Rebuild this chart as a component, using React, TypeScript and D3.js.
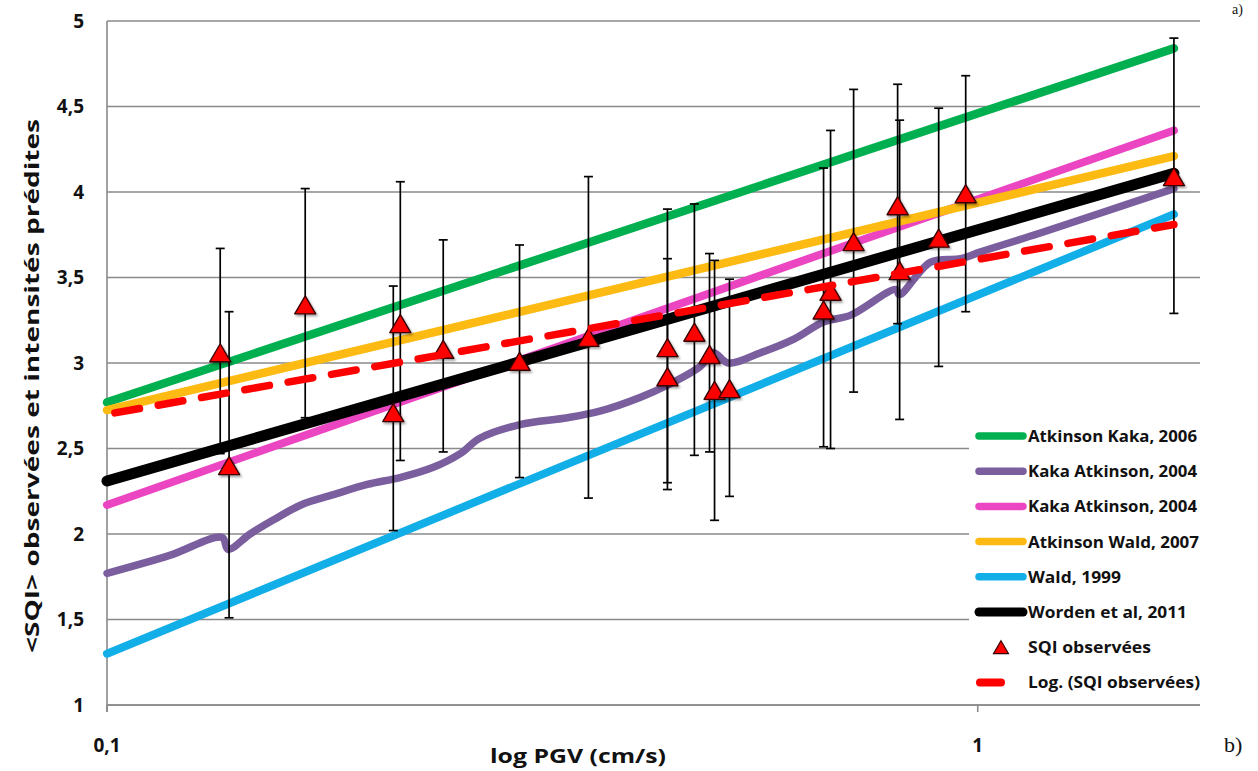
import React from "react";
import * as d3 from "d3";

// ---------- DATA ----------
const yTicks = [1, 1.5, 2, 2.5, 3, 3.5, 4, 4.5, 5];
const yTickLabels = ["1", "1,5", "2", "2,5", "3", "3,5", "4", "4,5", "5"];
const xTicks = [0.1, 1];
const xTickLabels = ["0,1", "1"];

// straight predicted lines (in log x) : value at first and last PGV
const lineX = [0.1, 1.68];
const atkinsonKaka2006 = [2.77, 4.84];
const kakaAtkinson2004b = [2.17, 4.36];
const atkinsonWald2007 = [2.725, 4.21];
const wald1999 = [1.3, 3.87];
const worden2011 = [2.31, 4.11];
const logTrend = [2.7, 3.81];

// Kaka Atkinson 2004 (bilinear / wavy relation)
const kakaX = [0.1, 0.118, 0.1356, 0.1377, 0.146, 0.155, 0.167, 0.182, 0.199, 0.217, 0.237, 0.2545, 0.268, 0.298, 0.338, 0.369, 0.41, 0.44, 0.48, 0.497, 0.517, 0.563, 0.615, 0.665, 0.715, 0.805, 0.813, 0.883, 0.956, 1.008, 1.18, 1.68];
const kakaY = [1.77, 1.875, 1.98, 1.91, 2.0, 2.08, 2.17, 2.23, 2.29, 2.33, 2.39, 2.47, 2.56, 2.64, 2.68, 2.72, 2.8, 2.87, 2.98, 3.06, 3.0, 3.06, 3.14, 3.24, 3.28, 3.43, 3.4, 3.59, 3.61, 3.65, 3.76, 4.02];

// observed SQI with error bars
const obsX = [0.1349, 0.1381, 0.1689, 0.2132, 0.2172, 0.2433, 0.2977, 0.3572, 0.4402, 0.4402, 0.4727, 0.492, 0.4986, 0.5187, 0.6652, 0.6776, 0.7202, 0.8091, 0.8134, 0.9019, 0.9687, 1.68];
const obsY = [3.06, 2.4, 3.34, 2.71, 3.23, 3.08, 3.01, 3.15, 3.09, 2.92, 3.18, 3.05, 2.84, 2.85, 3.31, 3.42, 3.71, 3.92, 3.54, 3.73, 3.99, 4.09];
const obsLow = [2.47, 1.51, 2.68, 2.02, 2.43, 2.48, 2.33, 2.21, 2.26, 2.3, 2.46, 2.48, 2.08, 2.22, 2.51, 2.5, 2.83, 3.23, 2.67, 2.98, 3.3, 3.29];
const obsHigh = [3.67, 3.3, 4.02, 3.45, 4.06, 3.72, 3.69, 4.09, 3.9, 3.61, 3.93, 3.64, 3.6, 3.49, 4.14, 4.36, 4.6, 4.63, 4.42, 4.49, 4.68, 4.9];

const legendLabels = [
  "Atkinson Kaka, 2006",
  "Kaka Atkinson, 2004",
  "Kaka Atkinson, 2004",
  "Atkinson Wald, 2007",
  "Wald, 1999",
  "Worden et al, 2011",
  "SQI  observées",
  "Log. (SQI  observées)",
];
const legendTextWidths = [169, 169, 169, 171, 93, 159, 123, 172];

const COLORS = {
  green: "#00B050",
  purple: "#7B5E9E",
  pink: "#EC45C2",
  orange: "#FDBA12",
  blue: "#12AEE8",
  black: "#000000",
  red: "#FF0000",
};
const legendColors = [COLORS.green, COLORS.purple, COLORS.pink, COLORS.orange, COLORS.blue, COLORS.black, COLORS.red, COLORS.red];

const W = 1258;
const H = 771;
const FONT = "'Open Sans', Lato, sans-serif";

export default function App() {
  const x = d3.scaleLog().domain([0.1, 1.8]).range([107, 1200]);
  const y = d3.scaleLinear().domain([1, 5]).range([705, 21]);
  const line = d3
    .line<[number, number]>()
    .x((d) => x(d[0]))
    .y((d) => y(d[1]));
  const smooth = d3
    .line<[number, number]>()
    .x((d) => x(d[0]))
    .y((d) => y(d[1]))
    .curve(d3.curveCatmullRom.alpha(0.5));

  const straight = (vals: number[]) => line(lineX.map((v, i) => [v, vals[i]] as [number, number])) || "";
  const kakaPath = smooth(kakaX.map((v, i) => [v, kakaY[i]] as [number, number])) || "";

  const tri = (cx: number, cy: number, w: number, h: number) =>
    `M${cx},${cy - h / 2}L${cx + w / 2},${cy + h / 2}L${cx - w / 2},${cy + h / 2}Z`;

  const [x0, x1] = x.range();
  const legendY0 = 436;
  const legendDy = 35.2;

  return (
    <svg
      width={W}
      height={H}
      style={{ position: "absolute", left: 0, top: 0, background: "#fff" }}
      fontFamily={FONT}
    >
      <defs>
        <filter id="shadow" x="-50%" y="-50%" width="200%" height="200%">
          <feDropShadow dx="1.5" dy="2" stdDeviation="1.2" floodColor="#000" floodOpacity="0.35" />
        </filter>
      </defs>
      <rect x={0} y={0} width={W} height={H} fill="#fff" />

      {/* gridlines */}
      {yTicks.map((t) => (
        <line key={t} x1={x0} x2={x1} y1={y(t)} y2={y(t)} stroke="#8a8a8a" strokeWidth={1.6} />
      ))}
      {/* axes */}
      <line x1={x0} x2={x0} y1={y(5)} y2={y(1) + 7} stroke="#8a8a8a" strokeWidth={1.6} />
      {xTicks.map((t) => (
        <line key={t} x1={x(t)} x2={x(t)} y1={y(1)} y2={y(1) + 7} stroke="#8a8a8a" strokeWidth={1.6} />
      ))}

      {/* legend background */}
      <rect x={969} y={418} width={232} height={280} fill="#fff" />
      <line x1={x0} x2={x1} y1={y(1)} y2={y(1)} stroke="#8a8a8a" strokeWidth={1.6} />

      {/* tick labels */}
      {yTicks.map((t, i) => (
        <text key={t} x={84} y={y(t)} dy="0.36em" textAnchor="end" fontSize={19} fontWeight="bold" fill="#111">
          {yTickLabels[i]}
        </text>
      ))}
      {xTicks.map((t, i) => (
        <text key={t} x={x(t)} y={752} textAnchor="middle" fontSize={19} fontWeight="bold" fill="#111">
          {xTickLabels[i]}
        </text>
      ))}

      {/* axis titles */}
      <text x={578} y={763} textAnchor="middle" fontSize={20} fontWeight="bold" fill="#111" textLength={176} lengthAdjust="spacingAndGlyphs">
        log PGV (cm/s)
      </text>
      <text
        transform="translate(39,386) rotate(-90)"
        textAnchor="middle"
        fontSize={20}
        fontWeight="bold"
        fill="#111"
        textLength={534}
        lengthAdjust="spacingAndGlyphs"
      >
        {"<SQI> observées  et intensités prédites"}
      </text>
      <text x={1224} y={752} fontSize={22} fontFamily="'Liberation Serif', serif" fill="#111">b)</text>
      <text x={1232} y={14} fontSize={14} fontFamily="'Liberation Serif', serif" fill="#111">a)</text>

      {/* predicted lines */}
      <g fill="none" strokeLinecap="round" strokeLinejoin="round">
        <path d={kakaPath} stroke={COLORS.purple} strokeWidth={7.5} />
        <path d={straight(kakaAtkinson2004b)} stroke={COLORS.pink} strokeWidth={8} />
        <path d={straight(atkinsonKaka2006)} stroke={COLORS.green} strokeWidth={8.5} />
        <path d={straight(atkinsonWald2007)} stroke={COLORS.orange} strokeWidth={8.5} />
        <path d={straight(wald1999)} stroke={COLORS.blue} strokeWidth={8} />
        <path d={straight(worden2011)} stroke={COLORS.black} strokeWidth={11} />
      </g>

      {/* error bars */}
      <g stroke="#000" strokeWidth={1.7}>
        {obsX.map((v, i) => (
          <g key={i}>
            <line x1={x(v)} x2={x(v)} y1={y(obsLow[i])} y2={y(obsHigh[i])} />
            <line x1={x(v) - 4.5} x2={x(v) + 4.5} y1={y(obsLow[i])} y2={y(obsLow[i])} />
            <line x1={x(v) - 4.5} x2={x(v) + 4.5} y1={y(obsHigh[i])} y2={y(obsHigh[i])} />
          </g>
        ))}
      </g>

      {/* observed markers */}
      <g filter="url(#shadow)">
        {obsX.map((v, i) => (
          <path key={i} d={tri(x(v), y(obsY[i]), 21, 18)} fill={COLORS.red} stroke="#3a0000" strokeWidth={1.4} strokeLinejoin="round" />
        ))}
      </g>

      {/* log trendline */}
      <path
        d={straight(logTrend)}
        fill="none"
        stroke={COLORS.red}
        strokeWidth={7.5}
        strokeDasharray="25 19"
        strokeDashoffset={-8}
        strokeLinecap="round"
      />

      {/* legend */}
      {legendLabels.map((lab, i) => {
        const ly = legendY0 + i * legendDy;
        return (
          <g key={i}>
            {i < 6 && (
              <line x1={979} x2={1023} y1={ly} y2={ly} stroke={legendColors[i]} strokeWidth={i === 5 ? 9 : 7.5} strokeLinecap="round" />
            )}
            {i === 6 && (
              <path d={tri(1001, ly, 15, 13)} fill={COLORS.red} stroke="#3a0000" strokeWidth={1.2} />
            )}
            {i === 7 && (
              <line x1={980} x2={1001} y1={ly} y2={ly} stroke={COLORS.red} strokeWidth={8} strokeLinecap="round" />
            )}
            <text
              x={1028}
              y={ly}
              dy="0.36em"
              fontSize={16.5}
              fontWeight="bold"
              fill="#111"
              textLength={legendTextWidths[i]}
              lengthAdjust="spacingAndGlyphs"
            >
              {lab}
            </text>
          </g>
        );
      })}
    </svg>
  );
}
